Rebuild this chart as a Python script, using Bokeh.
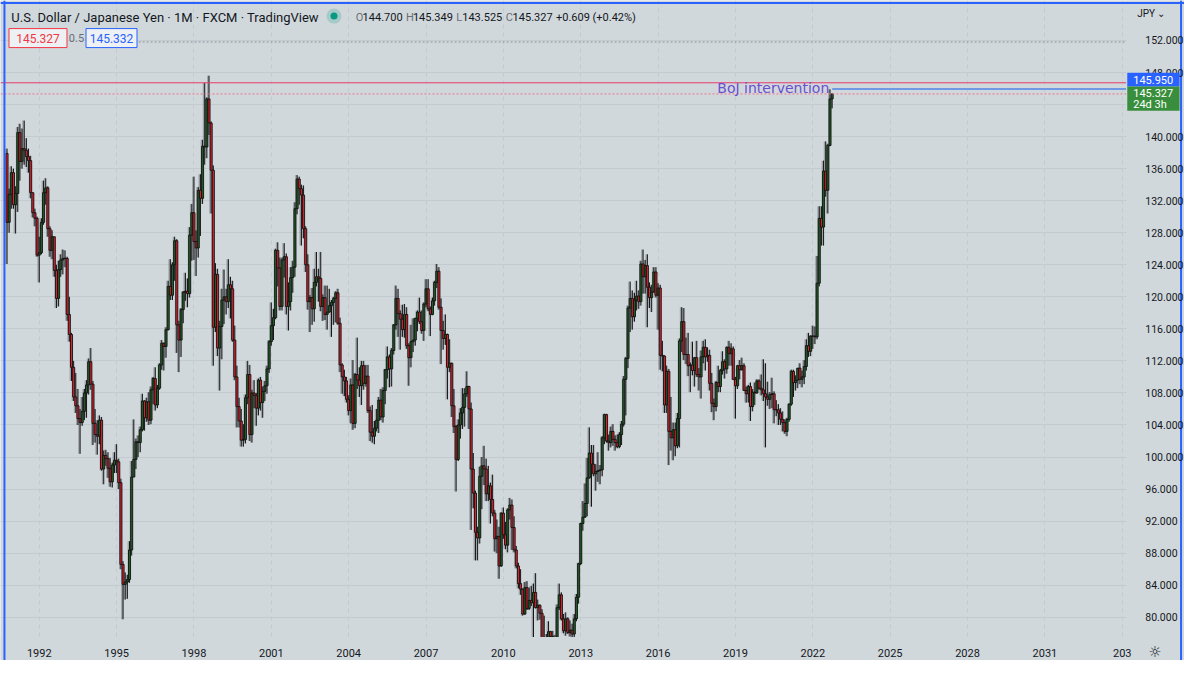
import numpy as np
from bokeh.plotting import figure
from bokeh.models import Range1d, FixedTicker, NumeralTickFormatter, Label, ColumnDataSource, BoxAnnotation
from bokeh.embed import file_html
from bokeh.resources import INLINE

# ---------------- data: USD/JPY monthly candles, Oct 1990 .. Oct 2022 ----------------
first_month_index = -15          # Oct 1990, counted in months from Jan 1992
first_open = 137.9

close = [
    129.3, 132.8, 135.5,                                                                   # 1990 Oct-Dec
    131.5, 132.9, 140.5, 136.9, 138.5, 138.3, 137.5, 137.0, 133.0, 130.5, 129.8, 125.2,   # 1991
    125.5, 129.3, 133.0, 133.6, 128.5, 125.8, 127.5, 123.3, 119.8, 123.4, 124.6, 124.8,   # 1992
    124.8, 117.8, 115.3, 111.2, 107.5, 106.4, 104.8, 104.3, 105.7, 108.0, 109.0, 111.9,   # 1993
    109.1, 104.2, 102.8, 102.6, 104.6, 98.5, 100.2, 99.8, 98.6, 96.9, 99.0, 99.6,         # 1994
    99.4, 96.8, 86.6, 84.1, 84.4, 84.7, 88.4, 97.5, 99.7, 101.9, 101.8, 103.4,            # 1995
    107.0, 104.9, 106.9, 104.6, 108.4, 109.8, 106.5, 108.6, 111.5, 114.2, 113.8, 115.9,   # 1996
    121.3, 120.2, 124.0, 127.0, 116.5, 114.6, 118.4, 120.6, 120.7, 120.4, 127.7, 130.5,   # 1997
    126.9, 126.1, 133.3, 132.3, 138.8, 138.7, 144.7, 141.7, 135.8, 116.2, 122.8, 113.6,   # 1998
    116.3, 119.6, 120.0, 119.4, 121.5, 121.0, 114.6, 110.0, 106.3, 104.5, 102.1, 102.2,   # 1999
    107.4, 110.3, 102.8, 108.0, 107.7, 106.1, 109.6, 106.8, 108.2, 108.9, 111.0, 114.4,   # 2000
    116.4, 117.4, 125.8, 123.6, 118.8, 124.6, 125.0, 118.8, 119.4, 122.4, 123.7, 131.0,   # 2001
    134.7, 133.5, 132.7, 128.5, 124.0, 119.4, 119.9, 118.5, 121.8, 122.5, 122.3, 118.8,   # 2002
    119.9, 117.8, 118.1, 118.9, 119.3, 119.8, 120.5, 116.7, 111.5, 110.0, 109.5, 107.2,   # 2003
    105.8, 109.0, 104.2, 110.3, 109.6, 108.9, 111.4, 109.2, 110.1, 105.8, 103.1, 102.6,   # 2004
    103.6, 104.6, 107.1, 105.0, 108.3, 110.9, 112.5, 111.0, 113.3, 116.5, 119.8, 117.9,   # 2005
    117.2, 115.9, 117.8, 113.9, 112.4, 114.4, 114.6, 117.3, 118.1, 116.9, 115.8, 119.1,   # 2006
    121.0, 118.5, 117.8, 119.5, 121.8, 123.2, 118.7, 115.8, 114.8, 115.3, 111.2, 111.7,   # 2007
    106.4, 103.8, 99.7, 104.0, 105.5, 106.2, 107.9, 108.8, 106.0, 98.5, 95.5, 90.6,       # 2008
    89.9, 97.6, 98.9, 98.5, 95.4, 96.4, 94.7, 93.0, 89.8, 90.1, 86.4, 93.0,               # 2009
    90.3, 89.0, 93.4, 94.0, 91.2, 88.4, 86.4, 84.2, 83.5, 80.4, 83.7, 81.1,               # 2010
    82.1, 81.8, 83.1, 81.2, 81.5, 80.5, 76.8, 76.6, 77.0, 78.2, 77.6, 76.9,               # 2011
    76.2, 81.2, 82.8, 79.8, 78.3, 79.8, 78.1, 78.4, 77.9, 79.8, 82.5, 86.7,               # 2012
    91.7, 92.5, 94.2, 97.4, 100.5, 99.1, 97.9, 98.2, 98.3, 98.4, 102.4, 105.3,            # 2013
    102.0, 101.8, 103.2, 102.2, 101.8, 101.3, 102.8, 104.1, 109.7, 112.3, 118.6, 119.8,   # 2014
    117.5, 119.6, 120.1, 119.4, 124.1, 122.5, 123.9, 121.2, 119.9, 120.6, 123.1, 120.2,   # 2015
    121.1, 112.7, 112.6, 106.5, 110.7, 103.2, 102.4, 103.4, 101.4, 104.8, 114.5, 116.9,   # 2016
    112.8, 112.8, 111.4, 111.5, 110.8, 112.4, 110.3, 110.0, 112.5, 113.7, 112.5, 112.7,   # 2017
    109.2, 106.7, 106.3, 109.3, 108.8, 110.8, 111.9, 111.0, 113.7, 112.9, 113.5, 109.7,   # 2018
    108.9, 111.4, 110.9, 111.4, 108.3, 107.9, 108.8, 106.3, 108.1, 108.0, 109.5, 108.6,   # 2019
    108.4, 107.9, 107.5, 107.2, 107.8, 107.9, 105.9, 105.9, 105.5, 104.7, 104.3, 103.2,   # 2020
    104.7, 106.6, 110.7, 109.3, 109.6, 111.1, 109.7, 110.0, 111.3, 113.9, 113.2, 115.1,   # 2021
    115.1, 115.0, 121.7, 129.8, 128.7, 135.7, 133.3, 138.9, 144.7, 145.327,               # 2022
]

high = [
    138.5, 133.5, 136.3,
    136.0, 133.8, 141.2, 141.6, 141.0, 142.0, 139.8, 138.5, 137.6, 133.0, 131.0, 130.0,
    127.5, 129.8, 134.5, 134.8, 133.8, 128.8, 128.3, 127.5, 124.0, 124.5, 125.3, 125.9,
    125.8, 125.0, 120.0, 115.5, 112.0, 110.5, 108.5, 106.0, 107.5, 108.5, 109.6, 112.3,
    113.6, 109.5, 106.0, 104.6, 105.2, 105.0, 100.8, 100.9, 100.6, 99.9, 99.3, 100.6,
    101.6, 99.8, 97.3, 87.0, 85.6, 85.3, 89.5, 99.5, 104.7, 102.3, 102.7, 103.8,
    107.9, 107.1, 107.4, 108.1, 108.8, 110.0, 111.2, 109.0, 111.7, 114.6, 114.3, 116.2,
    122.0, 124.7, 124.3, 127.5, 127.2, 117.0, 118.6, 120.7, 123.0, 122.3, 128.7, 131.6,
    135.0, 128.3, 133.7, 135.3, 139.6, 146.7, 144.9, 147.6, 141.9, 136.4, 124.2, 123.5,
    117.0, 121.0, 123.4, 121.0, 124.7, 122.5, 122.0, 116.4, 111.4, 107.4, 106.0, 104.1,
    107.8, 112.0, 111.5, 108.4, 109.6, 108.0, 109.8, 110.0, 108.8, 109.5, 111.4, 114.6,
    119.3, 118.5, 126.0, 126.8, 124.9, 124.9, 126.7, 125.4, 121.8, 123.7, 124.5, 131.8,
    135.2, 135.0, 134.0, 133.9, 128.8, 125.3, 120.2, 121.1, 123.5, 125.6, 123.5, 125.6,
    120.3, 121.4, 121.4, 121.0, 119.6, 120.0, 120.7, 121.0, 117.4, 111.7, 110.9, 110.0,
    107.7, 109.8, 112.1, 110.5, 114.9, 111.2, 112.0, 112.0, 111.5, 111.5, 106.3, 106.5,
    104.5, 106.0, 107.5, 108.5, 108.7, 111.0, 113.8, 112.8, 113.6, 116.6, 121.4, 121.0,
    118.3, 119.0, 119.1, 118.7, 114.2, 116.5, 117.3, 117.4, 118.3, 119.9, 118.3, 119.3,
    122.2, 122.2, 118.8, 119.9, 122.0, 124.1, 123.7, 119.8, 117.0, 117.8, 115.4, 114.7,
    111.8, 108.5, 104.0, 104.7, 106.1, 108.6, 108.6, 110.7, 108.9, 106.8, 100.5, 95.8,
    91.3, 98.8, 100.0, 101.4, 99.8, 98.9, 96.8, 97.8, 93.4, 92.2, 91.3, 93.1,
    93.7, 91.9, 93.6, 94.9, 94.7, 92.6, 88.9, 86.8, 86.0, 83.6, 84.4, 84.5,
    83.7, 83.9, 84.2, 85.5, 82.2, 81.6, 81.0, 80.2, 77.9, 79.5, 78.3, 78.3,
    77.8, 81.6, 84.2, 83.1, 80.4, 80.6, 80.0, 79.6, 79.2, 80.4, 82.9, 86.8,
    91.8, 94.5, 96.7, 99.9, 103.7, 101.5, 101.5, 99.1, 100.6, 99.0, 102.6, 105.4,
    105.4, 102.8, 103.8, 104.1, 102.7, 102.8, 103.1, 104.5, 110.1, 112.5, 118.9, 121.9,
    120.8, 120.5, 122.0, 120.8, 124.5, 125.9, 124.6, 125.3, 121.8, 121.5, 123.7, 123.7,
    121.7, 121.5, 114.5, 112.7, 111.4, 111.0, 107.5, 104.3, 104.3, 105.5, 114.8, 118.7,
    118.6, 114.9, 115.5, 111.8, 114.4, 112.5, 114.5, 111.1, 113.3, 114.5, 114.7, 113.7,
    113.4, 110.5, 107.3, 109.5, 111.4, 111.0, 113.2, 112.2, 113.8, 114.5, 114.2, 113.8,
    110.0, 111.5, 112.1, 112.4, 111.7, 108.8, 109.0, 109.3, 108.5, 109.3, 109.7, 109.7,
    110.3, 112.2, 111.7, 109.4, 108.1, 109.9, 108.2, 107.1, 106.6, 106.1, 105.7, 104.7,
    104.9, 106.7, 110.9, 110.9, 110.2, 111.1, 111.7, 110.8, 112.1, 114.7, 115.5, 115.2,
    116.4, 116.3, 125.1, 131.3, 131.3, 137.0, 139.4, 139.1, 145.9, 145.349,
]

low = [
    124.1, 128.0, 131.0,
    131.0, 127.9, 130.6, 134.5, 136.0, 136.5, 136.2, 135.5, 132.3, 129.9, 128.8, 125.0,
    121.8, 125.3, 129.0, 131.5, 127.5, 125.0, 124.7, 122.5, 118.6, 118.8, 122.5, 122.8,
    123.7, 117.0, 114.4, 109.5, 107.0, 105.5, 104.0, 100.4, 103.9, 104.6, 104.9, 107.8,
    108.4, 101.5, 101.8, 100.3, 101.6, 98.3, 96.6, 98.9, 97.4, 96.3, 96.2, 98.0,
    98.0, 96.0, 86.0, 79.75, 82.2, 82.3, 84.3, 87.7, 97.5, 98.5, 100.0, 100.6,
    103.2, 103.3, 104.4, 104.0, 104.1, 106.6, 105.8, 106.1, 108.4, 110.9, 110.8, 112.4,
    115.8, 119.6, 119.6, 122.0, 113.0, 110.6, 112.5, 116.7, 119.5, 118.7, 119.9, 124.5,
    124.6, 122.6, 124.9, 127.6, 131.6, 136.5, 137.3, 140.2, 130.4, 111.4, 115.6, 112.6,
    108.3, 112.2, 116.6, 117.8, 118.6, 117.3, 114.4, 109.6, 103.7, 103.7, 101.3, 101.3,
    101.7, 106.6, 102.0, 101.8, 106.1, 103.9, 105.2, 105.8, 104.9, 107.0, 107.9, 110.5,
    113.9, 114.6, 117.2, 121.3, 118.3, 118.3, 122.4, 117.8, 115.8, 118.3, 120.5, 122.5,
    130.3, 131.5, 126.4, 127.3, 123.1, 118.4, 115.6, 116.5, 116.9, 121.3, 119.4, 118.2,
    117.0, 117.1, 115.9, 118.0, 115.0, 116.5, 116.8, 116.5, 110.6, 107.9, 107.6, 106.8,
    105.2, 104.2, 103.4, 103.6, 108.5, 107.5, 106.5, 108.4, 108.8, 105.5, 102.0, 101.8,
    101.6, 103.2, 103.0, 104.6, 104.3, 106.6, 109.8, 108.7, 108.8, 112.8, 115.9, 115.0,
    113.4, 115.0, 114.9, 113.5, 108.9, 111.2, 113.1, 113.9, 115.7, 116.6, 115.4, 114.5,
    118.7, 118.2, 115.1, 117.7, 118.9, 121.1, 118.4, 111.6, 113.4, 114.0, 107.2, 110.6,
    105.0, 103.0, 95.7, 99.5, 102.3, 103.5, 103.8, 107.5, 103.5, 90.9, 93.6, 87.1,
    87.1, 89.2, 93.5, 96.5, 94.5, 94.5, 91.7, 92.6, 88.2, 88.0, 84.8, 86.3,
    89.8, 88.5, 88.1, 92.2, 88.4, 88.1, 86.1, 83.6, 82.8, 80.2, 80.3, 80.9,
    80.9, 81.4, 76.3, 81.1, 79.6, 79.7, 76.5, 75.9, 75.9, 75.6, 76.6, 76.6,
    75.9, 76.1, 80.9, 79.6, 78.0, 77.7, 77.9, 77.6, 77.1, 77.5, 79.5, 81.7,
    86.5, 90.8, 92.4, 92.6, 97.3, 93.8, 97.6, 95.8, 96.9, 96.6, 97.6, 101.6,
    101.8, 100.8, 101.2, 101.4, 100.8, 101.1, 101.1, 101.5, 103.8, 105.2, 111.1, 115.6,
    115.9, 116.9, 118.3, 118.5, 118.9, 120.4, 120.4, 116.2, 118.6, 118.1, 120.5, 119.9,
    115.9, 110.9, 110.7, 105.5, 105.5, 99.0, 100.8, 99.6, 100.1, 101.1, 101.2, 113.1,
    112.1, 111.6, 110.1, 108.1, 110.2, 108.8, 110.0, 108.3, 107.3, 111.7, 110.8, 111.9,
    108.3, 105.6, 104.6, 105.7, 108.1, 108.1, 110.3, 109.8, 110.4, 111.4, 111.4, 109.6,
    104.8, 108.5, 109.7, 110.8, 108.3, 106.8, 106.8, 104.5, 105.7, 106.5, 107.9, 108.4,
    107.7, 107.0, 101.2, 106.4, 106.0, 106.1, 104.2, 105.1, 104.0, 104.0, 103.2, 102.9,
    102.6, 104.4, 106.4, 107.5, 108.3, 108.6, 109.1, 108.7, 109.1, 110.8, 112.5, 112.6,
    113.5, 114.1, 114.7, 121.3, 126.4, 126.4, 132.5, 130.4, 138.8, 143.525,
]

year_ticks = [1992, 1995, 1998, 2001, 2004, 2007, 2010, 2013, 2016, 2019, 2022, 2025, 2028, 2031, 2034]
year_labels = ["1992", "1995", "1998", "2001", "2004", "2007", "2010", "2013", "2016", "2019",
               "2022", "2025", "2028", "2031", "203"]
price_ticks = list(range(80, 153, 4))
hidden_price_ticks = [144]       # covered by the last-price tag in the original

last_close = 145.327
intervention_high = 145.950
level_1998 = 146.72
upper_dotted = 151.81

# ---------------- styling / layout helpers ----------------
BG = "#d1d8dc"
GRID = "#c3cbd0"
TXT = "#131722"
GREY_TXT = "#6a6d78"
GREEN = "#1f5f25"
RED = "#e0212f"
FONT = "Roboto"


def X(rx):   # reference-picture pixel x -> bar index (months from Jan 1992)
    return (rx - 39.3) / 2.1778


def Y(ry):   # reference-picture pixel y -> price
    return 80 + (631.7 - ry) / 8.205


n = len(close)
idx = np.arange(n) + first_month_index
opn = [first_open] + close[:-1]
top = np.maximum(opn, close)
bot = np.minimum(opn, close)
cols = [GREEN if c >= o else RED for o, c in zip(opn, close)]
src = ColumnDataSource(dict(x=idx, gx=idx - 0.45, o=opn, c=close, h=high, l=low,
                            top=top, bot=bot, col=cols))

p = figure(width=1184, height=660, output_backend="svg", toolbar_location=None,
           x_range=Range1d(X(0), X(1200)), y_range=Range1d(Y(676), Y(0)),
           y_axis_location="right", min_border_left=0, min_border_top=0,
           min_border_right=0, min_border_bottom=0,
           background_fill_color=BG, border_fill_color=BG)
p.outline_line_color = None

# axes drawn inside the canvas (price scale on the right, time scale at the bottom)
xt = [(y - 1992) * 12 for y in year_ticks]
p.xaxis.ticker = FixedTicker(ticks=xt)
p.xaxis.major_label_overrides = {t: lab for t, lab in zip(xt, year_labels)}
p.xaxis.fixed_location = Y(652)
p.yaxis.ticker = FixedTicker(ticks=price_ticks)
p.yaxis.formatter = NumeralTickFormatter(format="0.000")
p.yaxis.major_label_overrides = {t: "" for t in hidden_price_ticks}
p.yaxis.fixed_location = X(1140)
for ax in (p.xaxis, p.yaxis):
    ax.axis_line_color = None
    ax.major_tick_line_color = None
    ax.minor_tick_line_color = None
    ax.major_label_text_font = FONT
    ax.major_label_text_color = TXT
p.xaxis.major_label_text_font_size = "11px"
p.yaxis.major_label_text_font_size = "10.5px"
p.xaxis.major_label_standoff = 6
p.yaxis.major_label_standoff = 14

p.xgrid.ticker = FixedTicker(ticks=xt)
p.xgrid.grid_line_color = GRID
p.xgrid.grid_line_dash = "4 4"
p.ygrid.grid_line_color = GRID

# ghost bars, wicks, bodies
p.vbar(x="gx", width=0.9, top="h", bottom="l", source=src, fill_color="#5d6266",
       fill_alpha=0.45, line_color=None)
p.segment(x0="x", x1="x", y0="l", y1="h", source=src, line_color="#161616", line_width=1)
p.vbar(x="x", width=0.95, top="top", bottom="bot", source=src, fill_color="col",
       line_color="#111111", line_width=0.9)

# horizontal levels across the chart pane
p.segment(x0=[X(0)], x1=[X(1141)], y0=[level_1998], y1=[level_1998], line_color="#e93a6c", line_width=1)
p.segment(x0=[X(0)], x1=[X(1141)], y0=[last_close], y1=[last_close], line_color="#ef6f86",
          line_width=1, line_dash="2 2")
p.segment(x0=[X(140)], x1=[X(1141)], y0=[upper_dotted], y1=[upper_dotted],
          line_color="#8d949a", line_dash="2 2", line_width=1)
p.segment(x0=[X(843)], x1=[X(1141)], y0=[intervention_high], y1=[intervention_high],
          line_color="#6f98e6", line_width=2)

# cover the time-scale and price-scale strips (hides grid lines / candle tails there)
p.quad(left=[X(0)], right=[X(1200)], bottom=[Y(676)], top=[Y(652)], fill_color=BG, line_color=None)
p.quad(left=[X(1141)], right=[X(1200)], bottom=[Y(676)], top=[Y(0)], fill_color=BG, line_color=None)

# widget border (blue focus frame)
p.segment(x0=[X(4), X(1196.5), X(0)], x1=[X(4), X(1196.5), X(1200)],
          y0=[Y(0), Y(0), Y(2.5)], y1=[Y(676), Y(676), Y(2.5)],
          line_color="#2962ff", line_width=2)

# annotation text
p.add_layout(Label(x=X(840), y=Y(90), text="BoJ intervention", text_align="right",
                   text_baseline="middle", text_color="#6c4fcf",
                   text_font="DejaVu Sans", text_font_size="14px"))

# header
p.add_layout(Label(x=X(11), y=Y(17), text="U.S. Dollar / Japanese Yen · 1M · FXCM · TradingView",
                   text_baseline="middle", text_color=TXT, text_font=FONT, text_font_size="13px"))
p.scatter(x=[X(338)], y=[Y(16)], size=15, fill_color="#089981", fill_alpha=0.22, line_color=None)
p.scatter(x=[X(338)], y=[Y(16)], size=7, fill_color="#089981", line_color=None)
hdr = [(360, "O", GREY_TXT), (367, "144.700", TXT), (411, "H", GREY_TXT), (418, "145.349", TXT),
       (462, "L", GREY_TXT), (468, "143.525", TXT), (512, "C", GREY_TXT), (519, "145.327", TXT),
       (563, "+0.609 (+0.42%)", TXT)]
for hx, t, c in hdr:
    p.add_layout(Label(x=X(hx), y=Y(17), text=t, text_baseline="middle", text_color=c,
                       text_font=FONT, text_font_size="11px"))

# bid / ask boxes
p.rect(x=[X(38)], y=[Y(38.5)], width=58, height=19, width_units="screen", height_units="screen",
       fill_color="#eef1f3", line_color="#f23645", line_width=1)
p.rect(x=[X(112.5)], y=[Y(38.5)], width=51, height=19, width_units="screen", height_units="screen",
       fill_color="#eef1f3", line_color="#2962ff", line_width=1)
p.add_layout(Label(x=X(38), y=Y(38.5), text="145.327", text_align="center", text_baseline="middle",
                   text_color="#f23645", text_font=FONT, text_font_size="12px"))
p.add_layout(Label(x=X(77), y=Y(38.5), text="0.5", text_align="center", text_baseline="middle",
                   text_color=GREY_TXT, text_font=FONT, text_font_size="11px"))
p.add_layout(Label(x=X(112.5), y=Y(38.5), text="145.332", text_align="center", text_baseline="middle",
                   text_color="#2962ff", text_font=FONT, text_font_size="12px"))

# price-scale tags
p.add_layout(BoxAnnotation(left=X(1142), right=X(1195), top=Y(74), bottom=Y(88),
                           fill_color="#2962ff", fill_alpha=1, line_color=None))
p.add_layout(BoxAnnotation(left=X(1142), right=X(1195), top=Y(88), bottom=Y(113),
                           fill_color="#388e3c", fill_alpha=1, line_color=None))
p.add_layout(Label(x=X(1148), y=Y(81), text="145.950", text_baseline="middle", text_color="white",
                   text_font=FONT, text_font_size="11px"))
p.add_layout(Label(x=X(1148), y=Y(94.5), text="145.327", text_baseline="middle", text_color="white",
                   text_font=FONT, text_font_size="11px"))
p.add_layout(Label(x=X(1148), y=Y(106.5), text="24d 3h", text_baseline="middle", text_color="white",
                   text_font=FONT, text_font_size="11px"))
p.add_layout(Label(x=X(1152), y=Y(13), text="JPY ⌄", text_baseline="middle", text_color=TXT,
                   text_font=FONT, text_font_size="10px"))
p.add_layout(Label(x=X(1170), y=Y(667), text="☼", text_align="center", text_baseline="middle",
                   text_color=TXT, text_font="DejaVu Sans", text_font_size="15px"))

open("out.html", "w").write(file_html(p, INLINE))
